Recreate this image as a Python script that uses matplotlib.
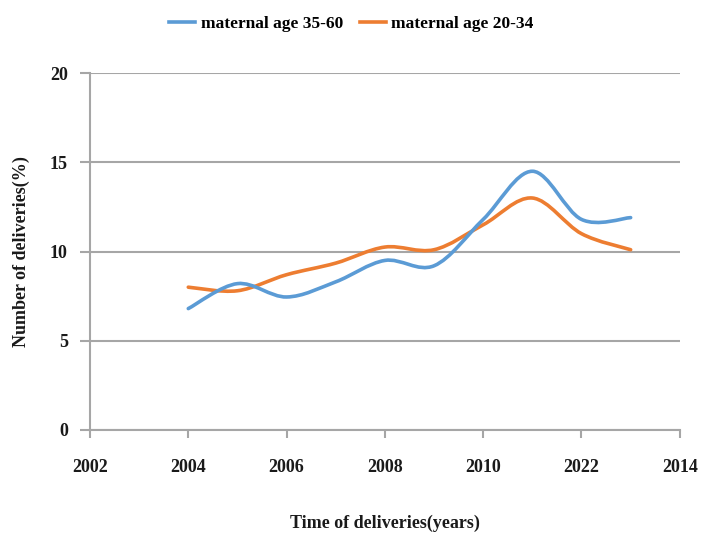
import numpy as np
import matplotlib
matplotlib.use('Agg')
import matplotlib.pyplot as plt
from matplotlib.path import Path
from matplotlib.patches import PathPatch
from matplotlib.lines import Line2D

years = [2004, 2005, 2006, 2007, 2008, 2009, 2010, 2011, 2012, 2013]
age_35_60 = [6.8, 8.2, 7.45, 8.3, 9.5, 9.2, 11.8, 14.5, 11.8, 11.9]
age_20_34 = [8.0, 7.8, 8.7, 9.35, 10.25, 10.1, 11.5, 13.0, 11.0, 10.1]
xticks = [2002, 2004, 2006, 2008, 2010, 2012, 2014]
xtick_labels = ['2002', '2004', '2006', '2008', '2010', '2022', '2014']
yticks = [0, 5, 10, 15, 20]

BLUE = '#5b9bd5'
ORANGE = '#ed7d31'
GRID = '#a6a6a6'

plt.rcParams['font.family'] = ['Liberation Serif', 'DejaVu Serif']
plt.rcParams['font.weight'] = 'bold'


def smooth_path(x, y):
    # Excel-like smoothed line: Catmull-Rom segments as cubic beziers
    x = np.asarray(x, float)
    y = np.asarray(y, float)
    n = len(x)
    verts = [(x[0], y[0])]
    codes = [Path.MOVETO]
    for i in range(n - 1):
        p0 = i - 1 if i > 0 else i
        p3 = i + 2 if i + 2 < n else i + 1
        c1 = (x[i] + (x[i + 1] - x[p0]) / 6, y[i] + (y[i + 1] - y[p0]) / 6)
        c2 = (x[i + 1] - (x[p3] - x[i]) / 6, y[i + 1] - (y[p3] - y[i]) / 6)
        verts += [c1, c2, (x[i + 1], y[i + 1])]
        codes += [Path.CURVE4] * 3
    return Path(verts, codes)


fig = plt.figure(figsize=(7.03, 5.34), dpi=100)
ax = fig.add_axes([0.128, 0.195, 0.839, 0.668])

for vals, col in [(age_20_34, ORANGE), (age_35_60, BLUE)]:
    ax.add_patch(PathPatch(smooth_path(years, vals), fill=False,
                           edgecolor=col, lw=2.6, capstyle='round', zorder=3))

ax.set_xlim(2002, 2014)
ax.set_ylim(0, 20)
ax.set_xticks(xticks)
ax.set_xticklabels(xtick_labels)
ax.set_yticks(yticks)
ax.yaxis.grid(True, color=GRID, lw=1.5)
ax.set_axisbelow(True)
for s in ['top', 'right']:
    ax.spines[s].set_visible(False)
for s in ['left', 'bottom']:
    ax.spines[s].set_color(GRID)
    ax.spines[s].set_linewidth(1.5)
ax.tick_params(axis='x', colors=GRID, length=6, width=1.5, direction='out',
               labelcolor='#1a1a1a', labelsize=13, pad=15)
ax.tick_params(axis='y', colors=GRID, length=7, width=1.5, direction='out',
               labelcolor='#1a1a1a', labelsize=13, pad=9)

ax.set_xlabel('Time of deliveries(years)', fontsize=13, fontweight='bold',
              labelpad=28, color='#1a1a1a')
ax.set_ylabel('Number of deliveries(%)', fontsize=13, fontweight='bold',
              labelpad=14, color='#1a1a1a')

handles = [Line2D([], [], color=BLUE, lw=2.6), Line2D([], [], color=ORANGE, lw=2.6)]
fig.legend(handles, ['maternal age 35-60', 'maternal age 20-34'],
           loc='center', bbox_to_anchor=(0.5, 0.955), ncol=2, frameon=False,
           fontsize=12.5, handlelength=1.5, handletextpad=0.3, columnspacing=1.0)

fig.savefig('out.png', dpi=100)
